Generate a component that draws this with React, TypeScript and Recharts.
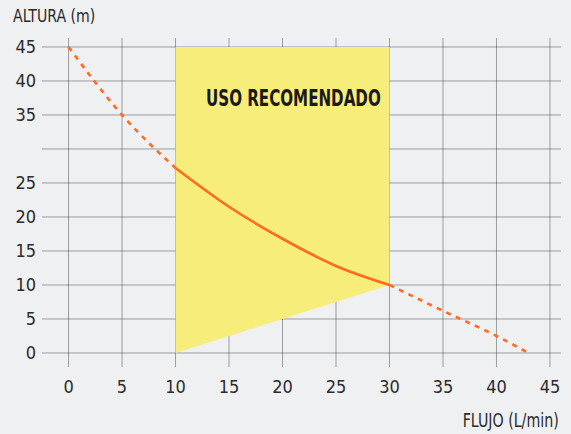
import * as React from "react";
import {
  Area,
  CartesianGrid,
  ComposedChart,
  Line,
  XAxis,
  YAxis,
} from "recharts";

/* ── data ──────────────────────────────────────────────────────────────────── */

const X_TICKS = [0, 5, 10, 15, 20, 25, 30, 35, 40, 45];
const Y_TICKS = [0, 5, 10, 15, 20, 25, 30, 35, 40, 45];

// pump curve, split into the dashed / solid / dashed pieces
const CURVE_LOW = [
  { flujo: 0, altura: 45 },
  { flujo: 5, altura: 35 },
  { flujo: 10, altura: 27.2 },
];
const CURVE_MID = [
  { flujo: 10, altura: 27.2 },
  { flujo: 15, altura: 21.5 },
  { flujo: 20, altura: 16.8 },
  { flujo: 25, altura: 12.8 },
  { flujo: 30, altura: 10 },
];
const CURVE_HIGH = [
  { flujo: 30, altura: 10 },
  { flujo: 35, altura: 6.2 },
  { flujo: 40, altura: 2.5 },
  { flujo: 43, altura: 0 },
];

// recommended zone: from the floor line up to 45
const ZONE = [
  { flujo: 10, rango: [0, 45] },
  { flujo: 30, rango: [10, 45] },
];

/* ── styles ────────────────────────────────────────────────────────────────── */

const FONT = "'DejaVu Sans Condensed', 'DejaVu Sans', sans-serif";
const BG = "#eff0f2";
const TEXT = "#2b2b2b";
const ORANGE = "#ff6b1f";
const YELLOW = "#f7ed7b";
const GRID = "rgba(0,0,0,0.35)";

const W = 571;
const H = 434;

export default function App() {
  const tick = { fill: TEXT, fontSize: 18, fontFamily: FONT };
  return (
    <div
      style={{
        position: "absolute",
        left: 0,
        top: 0,
        width: W,
        height: H,
        background: BG,
        fontFamily: FONT,
        color: TEXT,
      }}
    >
      <ComposedChart
        width={W}
        height={H}
        margin={{ top: 38, right: 10, left: 0, bottom: 0 }}
      >
        <XAxis
          type="number"
          dataKey="flujo"
          domain={[-2.48, 46.03]}
          ticks={X_TICKS}
          allowDataOverflow
          tick={tick}
          tickLine={false}
          axisLine={false}
          tickSize={6}
          tickMargin={7}
          height={67}
        />
        <YAxis
          type="number"
          domain={[-2.06, 46.32]}
          ticks={Y_TICKS}
          allowDataOverflow
          tick={tick}
          tickLine={false}
          axisLine={false}
          tickSize={6}
          tickMargin={0}
          width={42}
          tickFormatter={(v) => (v === 30 ? "" : String(v))}
        />
        <Area
          data={ZONE}
          dataKey="rango"
          type="linear"
          stroke="none"
          fill={YELLOW}
          fillOpacity={1}
          isAnimationActive={false}
        />
        <CartesianGrid
          stroke={GRID}
          horizontalValues={Y_TICKS}
          verticalValues={X_TICKS}
        />
        <Line
          data={CURVE_LOW}
          dataKey="altura"
          type="monotone"
          stroke={ORANGE}
          strokeWidth={2.6}
          strokeDasharray="5 5.5"
          dot={false}
          isAnimationActive={false}
        />
        <Line
          data={CURVE_MID}
          dataKey="altura"
          type="monotone"
          stroke={ORANGE}
          strokeWidth={2.6}
          dot={false}
          isAnimationActive={false}
        />
        <Line
          data={CURVE_HIGH}
          dataKey="altura"
          type="monotone"
          stroke={ORANGE}
          strokeWidth={2.6}
          strokeDasharray="5 5.5"
          dot={false}
          isAnimationActive={false}
        />
      </ComposedChart>

      <div
        style={{
          position: "absolute",
          left: 13,
          top: 5,
          fontSize: 18,
          whiteSpace: "nowrap",
          transform: "scaleX(0.87)",
          transformOrigin: "left center",
        }}
      >
        ALTURA (m)
      </div>
      <div
        style={{
          position: "absolute",
          left: 206,
          top: 85,
          fontSize: 23,
          fontWeight: "bold",
          color: "#1a1a1a",
          whiteSpace: "nowrap",
          transform: "scaleX(0.73)",
          transformOrigin: "left center",
        }}
      >
        USO RECOMENDADO
      </div>
      <div
        style={{
          position: "absolute",
          right: 12,
          top: 409,
          fontSize: 19,
          whiteSpace: "nowrap",
          transform: "scaleX(0.83)",
          transformOrigin: "right center",
        }}
      >
        FLUJO (L/min)
      </div>
    </div>
  );
}
